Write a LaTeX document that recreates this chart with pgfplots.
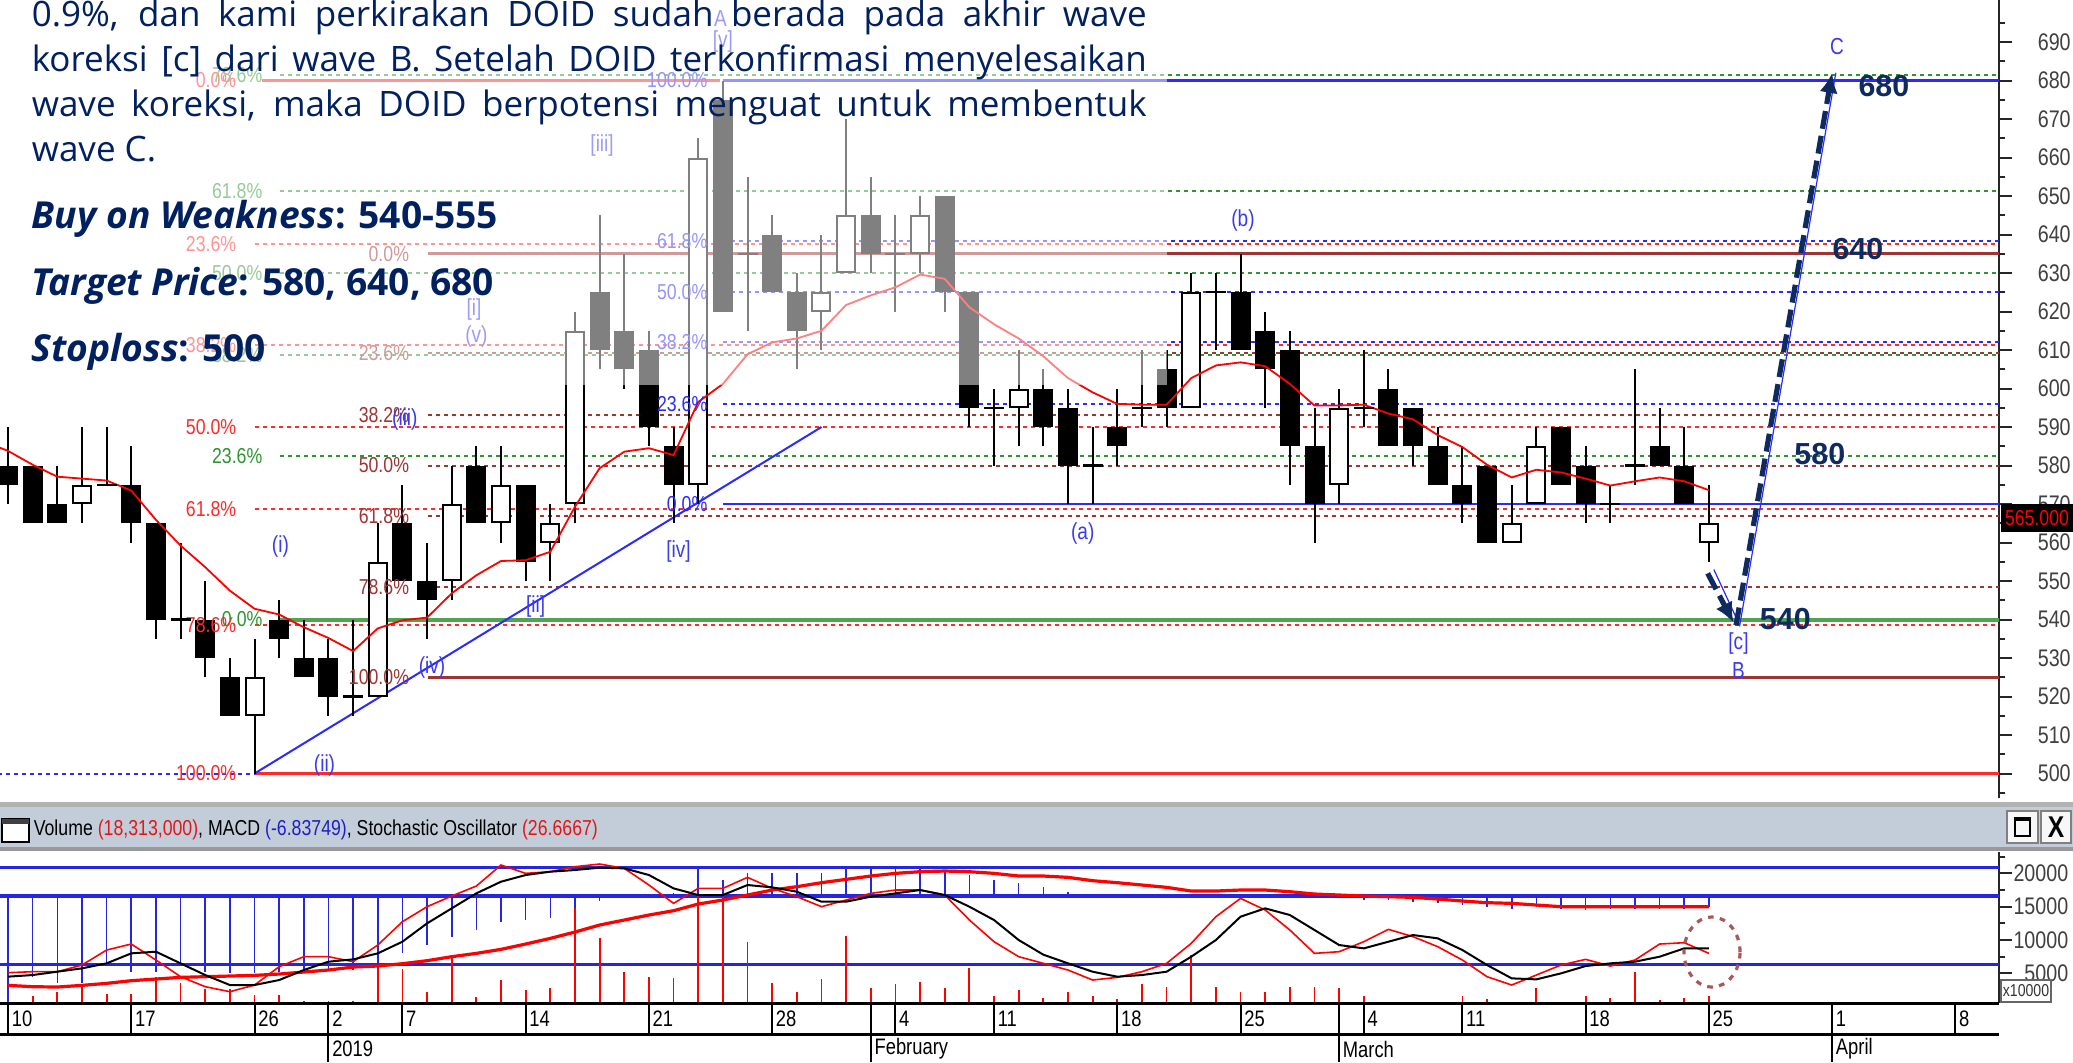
\documentclass[border=0pt]{standalone}
\usepackage{pgfplots}
\pgfplotsset{compat=1.18}
\usepackage{pgfplotstable}
\usepackage{fontspec}
\usetikzlibrary{arrows.meta}
\setmainfont{Open Sans}
\newfontfamily\narrow[FakeStretch=0.82]{Liberation Sans}
\newfontfamily\arialb{Liberation Sans}
\newcommand\fsz[1]{\fontsize{#1}{#1}\selectfont}
\definecolor{navy}{HTML}{002060}
\definecolor{anavy}{HTML}{0E2A5E}
\definecolor{fgreen}{HTML}{2E962E}
\definecolor{gsolid}{HTML}{4FA54F}
\definecolor{fred}{HTML}{FF2A2A}
\definecolor{fmaroon}{HTML}{9E3535}
\definecolor{fblue}{HTML}{2B2BFF}
\definecolor{wblue}{HTML}{3A3AF0}
\definecolor{hdr}{HTML}{C3CDD9}
\definecolor{hblue}{HTML}{2626E0}
\definecolor{ellc}{HTML}{A85858}
\tikzset{dot/.style={dash pattern=on 1pt off 1pt, line width=0.5pt}}

% ---------- candles: t open high low close ----------
\pgfplotstableread{
t O H L C
3 570 590 565 575
10 515 535 500 525
15 520 565 520 555
18 550 580 545 570
20 565 585 560 575
22 560 570 550 565
23 570 620 565 615
28 575 665 570 660
33 620 640 610 625
34 630 670 630 645
37 635 650 630 645
41 595 610 585 600
48 595 630 595 625
54 575 600 570 595
61 560 575 560 565
62 570 590 570 585
69 560 575 555 565
}\upc
\pgfplotstableread{
t O H L C
0 580 590 570 575
1 580 580 565 565
2 570 580 565 565
5 575 585 560 565
6 565 565 535 540
8 540 550 525 530
9 525 530 515 515
11 540 545 530 535
12 530 540 525 525
13 530 535 515 520
16 565 575 550 550
17 550 560 535 545
19 580 585 565 565
21 575 575 550 555
24 625 645 605 610
25 615 635 600 605
26 610 615 585 590
27 585 590 565 575
29 675 680 620 620
31 640 645 625 625
32 625 630 605 615
35 645 655 630 635
38 650 650 620 625
39 625 625 590 595
42 600 605 585 590
43 595 600 570 580
45 590 600 580 585
47 605 610 590 595
50 625 635 610 610
51 615 620 595 605
52 610 615 575 585
53 585 595 560 570
56 600 605 585 585
57 595 595 580 585
58 585 590 575 575
59 575 585 565 570
60 580 580 560 560
63 590 590 575 575
64 580 585 565 570
67 585 595 580 580
68 580 590 570 570
}\downc
\pgfplotstableread{
t O H L C
4 575 590 575 575
7 540 560 535 540
14 520 540 515 520
30 635 655 615 635
36 635 645 620 635
40 595 600 580 595
44 580 590 570 580
46 595 610 590 595
49 625 630 610 625
55 595 610 590 595
65 570 575 565 570
66 580 605 575 580
}\dojic
% ---------- moving average ----------
\pgfplotstableread{
t m
-0.4 584.8
0 583.8
1 580.2
2 577.1
3 576.6
4 576.1
5 573.5
6 565.9
7 559.2
8 553.6
9 547.5
10 542.8
11 541.3
12 538.0
13 535.2
14 531.8
15 537.7
16 539.8
17 540.5
18 546.8
19 551.5
20 555.2
21 555.4
22 557.6
23 569.3
24 579.3
25 583.6
26 584.5
27 582.7
28 596.5
29 601.2
30 608.9
31 612.0
32 613.0
33 615.0
34 621.7
35 624.2
36 626.3
37 629.6
38 628.5
39 621.1
40 616.7
41 613.0
42 608.4
43 602.7
44 599.0
45 596.0
46 595.8
47 595.8
48 602.7
49 606.0
50 606.8
51 605.8
52 601.2
53 595.6
54 595.6
55 595.8
56 593.5
57 592.0
58 587.9
59 584.8
60 580.2
61 576.9
62 578.9
63 578.2
64 576.6
65 574.8
66 575.9
67 576.9
68 575.9
69 573.6
}\ma
% ---------- lower panel: volume, MACD histogram, MACD line, stochastic ----------
\pgfplotstableread{
t v h m k d
0 1500 600 3195 5100 4500
1 1595 4495 2995 5245 4745
2 2245 3495 2945 5245 5245
3 3245 3495 3195 6245 5745
4 1895 6245 3495 8495 6495
5 1895 5245 3895 9395 7995
6 4495 5245 4145 6995 8245
7 3495 6245 4395 4495 6495
8 2595 5245 4495 2995 4745
9 2595 4995 4595 2245 3245
10 1745 4995 4695 3245 3245
11 1745 5245 4895 5995 3995
12 895 5495 5195 7495 5495
13 895 5495 5495 7495 6745
14 895 5495 5945 6745 7095
15 6495 6245 6095 9245 7995
16 5645 7995 6445 12745 9745
17 2245 9245 6895 14995 12495
18 7245 10495 7495 16595 14745
19 1495 11495 7995 18095 16995
20 3995 12745 8595 21245 18745
21 2495 12995 9395 19995 19745
22 2745 13245 10245 20245 20245
23 14745 14745 11195 20995 20495
24 10245 15895 12245 21395 20845
25 5245 16595 12995 20745 20745
26 4495 16595 13745 18245 19745
27 4245 16995 14395 15495 17745
28 20745 20845 15395 17745 16745
29 16495 18995 15995 17745 16745
30 9745 20095 16745 19395 18245
31 3595 20095 17495 17745 17895
32 2245 20095 17995 16495 17245
33 4145 20095 18595 14995 15745
34 10645 20745 19095 15995 15745
35 2745 20745 19595 16995 16495
36 3395 20745 19995 17495 16995
37 3645 21095 20245 17495 17495
38 2745 20495 20345 16745 16745
39 5845 19745 20245 12995 14995
40 1645 18995 19995 9745 12995
41 2495 18495 19595 7495 9995
42 1245 17895 19595 6500 7800
43 2245 17245 19395 5495 6495
44 1645 16895 18895 3995 5245
45 1095 16745 18595 4395 4495
46 3345 16595 18245 5245 4745
47 2995 16650 17895 6495 5245
48 7745 16595 17345 9495 7495
49 2995 16595 17345 13495 9995
50 2245 16495 17495 16245 13495
51 2245 16395 17495 14495 14745
52 2995 16245 17245 11495 13745
53 2995 16245 16895 7995 11495
54 2745 16245 16745 8245 9245
55 1595 15995 16595 9745 8745
56 745 15995 16495 11595 9745
57 600 15745 16395 10495 10745
58 600 15495 16145 8995 10245
59 1595 15245 15845 6995 8495
60 1095 14995 15595 4495 6245
61 745 14595 15495 3245 4245
62 2745 14895 15245 4745 4095
63 600 14595 14995 6245 4995
64 1595 14495 14995 7095 6095
65 1245 14595 14995 6095 6495
66 5245 14595 14995 6995 6745
67 995 14595 14995 9395 7495
68 1245 14595 14995 9595 8745
69 1595 14995 14995 7995 8745
}\low

\newcommand\hl[3]{\addplot[#1,forget plot] coordinates {(#2,#3) (81,#3)};}
\newcommand\fl[4]{\node[anchor=east, inner sep=0pt, text=#1, font=\narrow\fsz{5.4pt}] at (axis cs:#2,#3) {#4\%};}
\newcommand\wl[3]{\node[inner sep=0pt, text=wblue, font=\narrow\fsz{5.8pt}] at (axis cs:#1,#2) {#3};}
\pgfplotsset{bars/.style={draw=none, mark=none, forget plot, error bars/.cd, y dir=plus, y explicit, error mark=none}}

\begin{document}
\begin{tikzpicture}
\useasboundingbox (0pt,0pt) rectangle (518.25pt,-265.5pt);
\fill[white] (0pt,0pt) rectangle (518.25pt,-265.5pt);

% ================= main price panel =================
\begin{axis}[
  at={(0pt,0pt)}, anchor=north west,
  width=499.75pt, height=199.5pt, scale only axis,
  xmin=-0.325, xmax=80.77, ymin=493.64, ymax=700.91,
  axis x line=none, axis y line*=right,
  y axis line style={-, line width=0.5pt, black!85},
  xtick=\empty,
  ytick={500,510,...,690},
  minor ytick={495,505,...,695},
  tick align=outside,
  major tick length=3.3pt, minor tick length=1.6pt,
  every tick/.style={line width=0.5pt, black!85},
  yticklabel style={font=\narrow\fsz{6pt}, text=black!75, anchor=west, inner sep=0pt, xshift=6.2pt},
  /pgf/number format/assume math mode=true,
]
% fibonacci levels
\hl{fgreen,dot}{11.05}{681.5}
\hl{fgreen,dot}{11.05}{651.2}
\hl{fgreen,dot}{11.05}{630}
\hl{fgreen,dot}{11.05}{608.8}
\hl{fgreen,dot}{11.05}{582.5}
\hl{gsolid,line width=1pt}{11.05}{540}
\hl{fred,dot}{10}{637.5}
\hl{fred,dot}{10}{611.2}
\hl{fred,dot}{10}{590}
\hl{fred,dot}{10}{568.8}
\hl{fred,dot}{10}{538.5}
\hl{fred,line width=0.6pt}{10}{500}
\addplot[fred,line width=0.7pt,forget plot] coordinates {(10.3,680) (28.9,680)};
\hl{fmaroon,dot}{17.05}{609.2}
\hl{fmaroon,dot}{17.05}{593}
\hl{fmaroon,dot}{17.05}{580}
\hl{fmaroon,dot}{17.05}{567}
\hl{fmaroon,dot}{17.05}{548.5}
\hl{fmaroon,line width=0.75pt}{17.05}{635}
\hl{fmaroon,line width=0.75pt}{17.05}{525}
\hl{fblue,dot}{29}{638.3}
\hl{fblue,dot}{29}{625}
\hl{fblue,dot}{29}{612}
\hl{fblue,dot}{29}{596}
\hl{fblue,line width=0.7pt}{29}{680}
\hl{fblue,line width=0.7pt}{29}{570}
\addplot[fblue,dot,forget plot] coordinates {(-0.4,500) (10,500)};
% trend line
\addplot[fblue,line width=0.5pt,forget plot] coordinates {(10,500) (33,590)};
% wicks
\addplot[bars, error bar style={draw=black, line width=0.5pt}] table[x=t, y=L, y error plus expr=\thisrow{H}-\thisrow{L}] \downc;
\addplot[bars, error bar style={draw=black, line width=0.5pt}] table[x=t, y=L, y error plus expr=\thisrow{H}-\thisrow{L}] \upc;
\addplot[bars, error bar style={draw=black, line width=0.5pt}] table[x=t, y=L, y error plus expr=\thisrow{H}-\thisrow{L}] \dojic;
% bodies
\addplot[bars, error bar style={draw=black, line width=5pt}] table[x=t, y=C, y error plus expr=\thisrow{O}-\thisrow{C}] \downc;
\addplot[bars, error bar style={draw=black, line width=5pt}] table[x=t, y=O, y error plus expr=\thisrow{C}-\thisrow{O}] \upc;
\addplot[bars, error bar style={draw=white, line width=4pt, shorten <=0.5pt, shorten >=0.5pt}] table[x=t, y=O, y error plus expr=\thisrow{C}-\thisrow{O}] \upc;
\addplot[only marks, mark=-, mark size=2.5pt, mark options={black, line width=0.6pt}, forget plot] table[x=t, y=O] \dojic;
% moving average
\addplot[red, line width=0.45pt, forget plot] table[x=t, y=m] \ma;
% fib labels
\fl{fgreen}{10.35}{681.5}{78.6}
\fl{fgreen}{10.35}{651.2}{61.8}
\fl{fgreen}{10.35}{630}{50.0}
\fl{fgreen}{10.35}{608.8}{38.2}
\fl{fgreen}{10.35}{582.5}{23.6}
\fl{fgreen}{10.35}{540}{0.0}
\fl{fred}{9.29}{680}{0.0}
\fl{fred}{9.29}{637.5}{23.6}
\fl{fred}{9.29}{611.2}{38.2}
\fl{fred}{9.29}{590}{50.0}
\fl{fred}{9.29}{568.8}{61.8}
\fl{fred}{9.29}{538.5}{78.6}
\fl{fred}{9.29}{500}{100.0}
\fl{fmaroon}{16.3}{635}{0.0}
\fl{fmaroon}{16.3}{609.2}{23.6}
\fl{fmaroon}{16.3}{593}{38.2}
\fl{fmaroon}{16.3}{580}{50.0}
\fl{fmaroon}{16.3}{567}{61.8}
\fl{fmaroon}{16.3}{548.5}{78.6}
\fl{fmaroon}{16.3}{525}{100.0}
\fl{fblue}{28.4}{680}{100.0}
\fl{fblue}{28.4}{638.3}{61.8}
\fl{fblue}{28.4}{625}{50.0}
\fl{fblue}{28.4}{612}{38.2}
\fl{fblue}{28.4}{596}{23.6}
\fl{fblue}{28.4}{570}{0.0}
% wave labels
\wl{11.05}{559}{(i)}
\wl{12.84}{502.2}{(ii)}
\wl{16.1}{592}{(iii)}
\wl{17.2}{527.5}{(iv)}
\wl{19.0}{613.5}{(v)}
\wl{18.9}{620.6}{[i]}
\wl{21.4}{543.4}{[ii]}
\wl{24.1}{663.1}{[iii]}
\wl{27.2}{557.7}{[iv]}
\wl{29.0}{690.1}{[v]}
\wl{28.9}{696.1}{A}
\wl{43.6}{562.3}{(a)}
\wl{50.1}{643.7}{(b)}
\wl{70.2}{533.9}{[c]}
\wl{70.2}{526.8}{B}
\wl{74.2}{688.8}{C}
% projected path
\addplot[fblue, line width=0.3pt, forget plot] coordinates {(69.2,553) (70.25,538.5) (74.15,682)};
\draw[anavy, line width=1.3pt, dash pattern=on 4.5pt off 1.8pt, -{Latex[length=5pt,width=4.6pt]}] (axis cs:68.95,552) -- (axis cs:70.0,539.2);
\draw[anavy, line width=1.3pt, dash pattern=on 4.5pt off 1.8pt, -{Latex[length=5pt,width=4.6pt]}] (axis cs:70.1,538.5) -- (axis cs:74.0,682);
\node[text=anavy, font=\arialb\bfseries\fsz{7.6pt}] at (axis cs:76.1,678.5) {680};
\node[text=anavy, font=\arialb\bfseries\fsz{7.6pt}] at (axis cs:75.05,636.3) {640};
\node[text=anavy, font=\arialb\bfseries\fsz{7.6pt}] at (axis cs:73.5,582.9) {580};
\node[text=anavy, font=\arialb\bfseries\fsz{7.6pt}] at (axis cs:72.1,540.1) {540};
\end{axis}

% ================= lower indicator panel =================
\begin{axis}[
  at={(0pt,-213pt)}, anchor=north west,
  width=499.75pt, height=37.75pt, scale only axis,
  xmin=-0.325, xmax=80.77, ymin=545, ymax=23195,
  axis x line=none, axis y line*=right,
  y axis line style={-, line width=0.5pt, black!85},
  xtick=\empty,
  ytick={5000,10000,15000,20000},
  minor ytick={2500,7500,12500,17500,22500},
  scaled y ticks=false,
  tick align=outside,
  major tick length=3.3pt, minor tick length=1.6pt,
  every tick/.style={line width=0.5pt, black!85},
  yticklabel style={font=\narrow\fsz{6pt}, text=black!75, anchor=east, inner sep=0pt, xshift=14.2pt},
  /pgf/number format/.cd, assume math mode=true, 1000 sep={},
]
\addplot[hblue, line width=0.8pt, forget plot] coordinates {(-0.4,20845) (81,20845)};
\addplot[hblue, line width=0.8pt, forget plot] coordinates {(-0.4,16595) (81,16595)};
\addplot[hblue, line width=0.8pt, forget plot] coordinates {(-0.4,6295) (81,6295)};
\addplot[ycomb, red, line width=0.45pt, mark=none, forget plot] table[x=t, y=v] \low;
\addplot[bars, error bar style={draw=hblue, line width=0.4pt}] table[x=t, y expr=16595, y error plus expr=\thisrow{h}-16595] \low;
\addplot[red, line width=0.8pt, forget plot] table[x=t, y=m] \low;
\addplot[red, line width=0.4pt, forget plot] table[x=t, y=k] \low;
\addplot[black, line width=0.5pt, forget plot] table[x=t, y=d] \low;
\end{axis}

% ================= decorations in pixel units =================
\begin{scope}[x=0.25pt, y=-0.25pt]
% translucent text box
\fill[white, opacity=0.5] (0,0) rectangle (1167,385);
% commentary text
\node[anchor=base west, inner sep=0pt, text=navy, font=\fsz{8.75pt}] at (31,26.7) {\makebox[278.75pt][s]{0.9\%, dan kami perkirakan DOID sudah berada pada akhir wave}};
\node[anchor=base west, inner sep=0pt, text=navy, font=\fsz{8.75pt}] at (31,71.7) {\makebox[278.75pt][s]{koreksi [c] dari wave B. Setelah DOID terkonfirmasi menyelesaikan}};
\node[anchor=base west, inner sep=0pt, text=navy, font=\fsz{8.75pt}] at (31,116.7) {\makebox[278.75pt][s]{wave koreksi, maka DOID berpotensi menguat untuk membentuk}};
\node[anchor=base west, inner sep=0pt, text=navy, font=\fsz{8.75pt}] at (31,161.7) {wave C.};
\node[anchor=base west, inner sep=0pt, text=navy, font=\fsz{9.3pt}\bfseries] at (31,228) {\textit{Buy on Weakness}: 540-555};
\node[anchor=base west, inner sep=0pt, text=navy, font=\fsz{9.3pt}\bfseries] at (31,295) {\textit{Target Price}: 580, 640, 680};
\node[anchor=base west, inner sep=0pt, text=navy, font=\fsz{9.3pt}\bfseries] at (31,361.7) {\textit{Stoploss}: 500};
% last price tag
\node[fill=black, text=red, font=\narrow\fsz{5.4pt}, inner sep=1pt, minimum width=16.5pt, minimum height=7pt] at (2037,518) {565.000};
% panel separator and header
\fill[black!30] (0,802) rectangle (2073,807);
\fill[hdr] (0,807) rectangle (2073,847);
\fill[black!40] (0,847) rectangle (2073,851);
\draw[black, line width=0.4pt, fill=white] (2,819) rectangle (29,842);
\fill[black!75] (2,819) rectangle (29,824);
\node[anchor=base west, inner sep=0pt, font=\narrow\fsz{5.4pt}] at (33,835) {Volume \textcolor[HTML]{E01818}{(18,313,000)}, MACD \textcolor[HTML]{2020C0}{(-6.83749)}, Stochastic Oscillator \textcolor[HTML]{E01818}{(26.6667)}};
\draw[black!50, line width=0.4pt, fill=black!3] (2007,811) rectangle (2038,843);
\draw[black, line width=0.5pt] (2015,818) rectangle (2030,836);
\draw[black, line width=1.2pt] (2015,819) -- (2030,819);
\draw[black!50, line width=0.4pt, fill=black!3] (2041,811) rectangle (2071,843);
\node[font=\narrow\bfseries\fsz{7.5pt}] at (2056,827) {X};
% circled area
\draw[ellc, line width=0.8pt, dash pattern=on 1.4pt off 1.6pt] (1712,952) ellipse [x radius=7pt, y radius=8.75pt];
% x10000 box
\draw[black!60, line width=0.3pt, fill=white] (2001,980) rectangle (2051,1002);
\node[font=\narrow\fsz{4.3pt}, text=black!80] at (2026,991) {x10000};
% date strip
\draw[black, line width=0.8pt] (0,1003.5) -- (1999,1003.5);
\draw[black, line width=0.7pt] (0,1034.5) -- (1999,1034.5);
\foreach \t/\l in {0/10,5/17,10/26,13/2,16/7,21/14,26/21,31/28,36/4,40/11,45/18,50/25,55/4,59/11,64/18,69/25,74/1,79/8} {
  \pgfmathsetmacro\xx{8+24.65*\t}
  \draw[black, line width=0.5pt] (\xx,1003) -- (\xx,1035);
  \node[anchor=west, inner sep=0pt, font=\narrow\fsz{5.6pt}] at (\xx+3,1019) {\l};
}
\foreach \t/\l in {13/2019,35/February,54/March,74/April} {
  \pgfmathsetmacro\xx{8+24.65*\t}
  \draw[black, line width=0.5pt] (\xx,1003) -- (\xx,1062);
  \node[anchor=west, inner sep=0pt, font=\narrow\fsz{5.6pt}] at (\xx+3,1049) {\l};
}
\end{scope}
\end{tikzpicture}
\end{document}
